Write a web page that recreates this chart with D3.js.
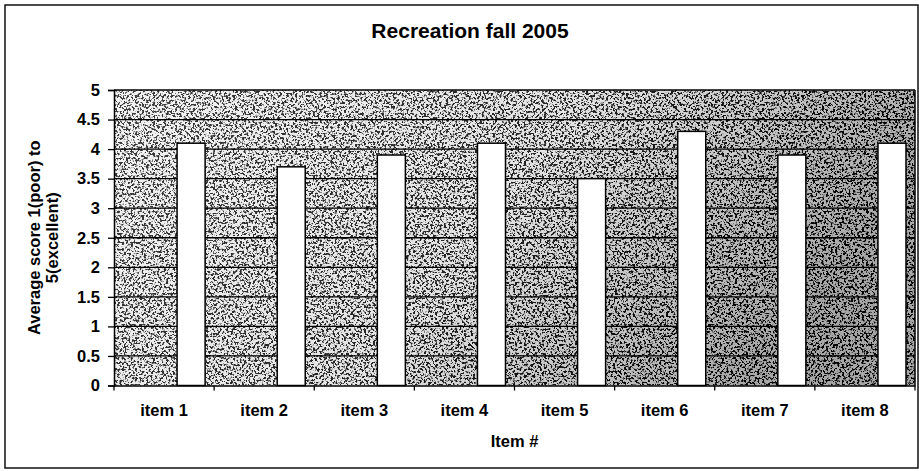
<!DOCTYPE html>
<html>
<head>
<meta charset="utf-8">
<script src="https://cdn.jsdelivr.net/npm/d3@7"></script>
<style>
  html, body { margin: 0; padding: 0; background: #fff; }
  svg { display: block; }
  text { font-family: Arial, "Liberation Sans", sans-serif; font-weight: bold; fill: #000; }
</style>
</head>
<body>
<svg id="chart" width="919" height="471"></svg>
<script>
const chartTitle = "Recreation fall 2005";
const categories = ["item 1", "item 2", "item 3", "item 4", "item 5", "item 6", "item 7", "item 8"];
const values = [4.1, 3.7, 3.9, 4.1, 3.5, 4.3, 3.9, 4.1];
const yTicks = [0, 0.5, 1, 1.5, 2, 2.5, 3, 3.5, 4, 4.5, 5];
const yTickLabels = ["0", "0.5", "1", "1.5", "2", "2.5", "3", "3.5", "4", "4.5", "5"];
const yTitleLines = ["Average score 1(poor) to", "5(excellent)"];
const xTitle = "Item #";

const W = 919, H = 471;
const m = { left: 114, right: 4, top: 90, bottom: 85.5 };
const svg = d3.select("#chart");
const defs = svg.append("defs");

// texture
const bg = defs.append("linearGradient").attr("id", "bgGrad").attr("x1", 0).attr("x2", 1).attr("y1", 0).attr("y2", 0.3);
bg.append("stop").attr("offset", "0%").attr("stop-color", "#f4f4f4");
bg.append("stop").attr("offset", "55%").attr("stop-color", "#e4e4e4");
bg.append("stop").attr("offset", "100%").attr("stop-color", "#a8a8a8");
const sg = defs.append("linearGradient").attr("id", "spGrad").attr("x1", 0).attr("x2", 1).attr("y1", 0).attr("y2", 0.3);
sg.append("stop").attr("offset", "0%").attr("stop-color", "#000").attr("stop-opacity", 0.75);
sg.append("stop").attr("offset", "55%").attr("stop-color", "#000").attr("stop-opacity", 0.85);
sg.append("stop").attr("offset", "100%").attr("stop-color", "#000").attr("stop-opacity", 1);
const f = defs.append("filter").attr("id", "grain").attr("x", 0).attr("y", 0).attr("width", "100%").attr("height", "100%");
f.append("feTurbulence").attr("type", "fractalNoise").attr("baseFrequency", 0.45).attr("numOctaves", 3).attr("seed", 7).attr("result", "n");
f.append("feColorMatrix").attr("in", "n").attr("type", "matrix")
  .attr("values", "0 0 0 0 0  0 0 0 0 0  0 0 0 0 0  9 0 0 0 -4.5").attr("result", "a");
f.append("feComposite").attr("in", "a").attr("in2", "SourceGraphic").attr("operator", "in");

const x = d3.scaleBand().domain(categories).range([m.left, W - m.right]).padding(0);
const y = d3.scaleLinear().domain([0, 5]).range([H - m.bottom, m.top]);

// outer border
svg.append("rect").attr("x", 5).attr("y", 5).attr("width", 913).attr("height", 463)
  .attr("fill", "none").attr("stroke", "#111").attr("stroke-width", 1.5);

// plot area
const pw = W - m.right - m.left, ph = y(0) - y(5);
svg.append("rect").attr("x", m.left).attr("y", m.top).attr("width", pw).attr("height", ph).attr("fill", "url(#bgGrad)");
svg.append("rect").attr("x", m.left).attr("y", m.top).attr("width", pw).attr("height", ph)
  .attr("fill", "url(#spGrad)").attr("filter", "url(#grain)");
svg.append("line").attr("x1", W - m.right).attr("x2", W - m.right).attr("y1", m.top).attr("y2", y(0))
  .attr("stroke", "#000").attr("stroke-width", 1.5);

// gridlines
svg.append("g").selectAll("line").data(yTicks.filter(d => d > 0)).join("line")
  .attr("x1", m.left).attr("x2", W - m.right)
  .attr("y1", d => y(d)).attr("y2", d => y(d))
  .attr("stroke", "#000").attr("stroke-width", 1.3);

// bars
svg.append("g").selectAll("rect").data(values).join("rect")
  .attr("x", (d, i) => x(categories[i]) + x.bandwidth() * 0.63)
  .attr("width", x.bandwidth() * 0.28)
  .attr("y", d => y(d))
  .attr("height", d => y(0) - y(d))
  .attr("fill", "#fff").attr("stroke", "#000").attr("stroke-width", 1.5);

// y axis
const yAxis = svg.append("g").attr("transform", `translate(${m.left},0)`)
  .call(d3.axisLeft(y).tickValues(yTicks).tickSize(6).tickPadding(8)
    .tickFormat((d, i) => yTickLabels[i]));
yAxis.select(".domain").attr("stroke", "#000").attr("stroke-width", 1.5);
yAxis.selectAll(".tick line").attr("stroke", "#000").attr("stroke-width", 1.3);
yAxis.selectAll("text").style("font-size", "16.5px").style("font-family", "Arial, 'Liberation Sans', sans-serif").style("font-weight", "bold");

// x axis
const xAxis = svg.append("g").attr("transform", `translate(0,${y(0)})`)
  .call(d3.axisBottom(x).tickSize(0).tickPadding(19));
xAxis.select(".domain").attr("stroke", "#000").attr("stroke-width", 1.5);
xAxis.selectAll("text").style("font-size", "16.5px").style("font-family", "Arial, 'Liberation Sans', sans-serif").style("font-weight", "bold");
const bounds = categories.map(c => x(c)).concat([x(categories[categories.length - 1]) + x.bandwidth()]);
xAxis.append("g").selectAll("line").data(bounds).join("line")
  .attr("x1", d => d).attr("x2", d => d).attr("y1", 0).attr("y2", 5)
  .attr("stroke", "#000").attr("stroke-width", 1.3);

// title
svg.append("text").attr("x", 470).attr("y", 38).attr("text-anchor", "middle")
  .style("font-size", "21px").text(chartTitle);

// x title
svg.append("text").attr("x", (m.left + W - m.right) / 2).attr("y", 447).attr("text-anchor", "middle")
  .style("font-size", "16.5px").text(xTitle);

// y title
const cy = (y(0) + y(5)) / 2;
yTitleLines.forEach((t, i) => {
  svg.append("text").attr("transform", `translate(${40 + i * 18},${cy}) rotate(-90)`)
    .attr("text-anchor", "middle").style("font-size", "16.5px").text(t);
});
</script>
</body>
</html>
